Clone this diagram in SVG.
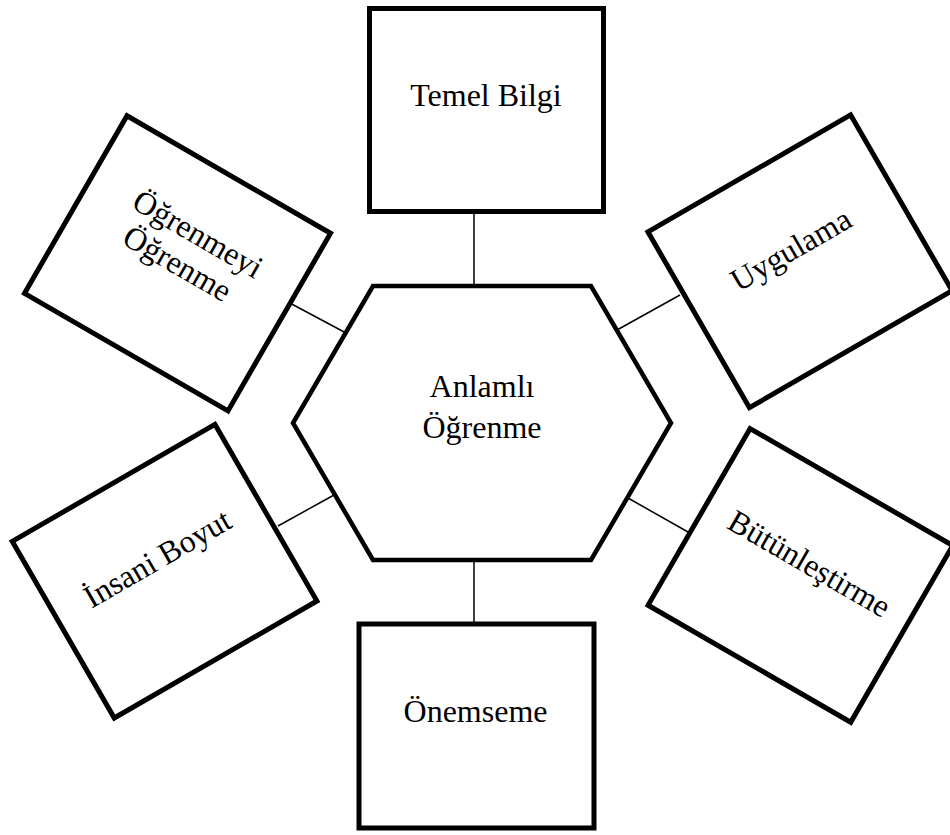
<svg xmlns="http://www.w3.org/2000/svg" width="950" height="835" viewBox="0 0 950 835">
  <style>
    .box { fill: #ffffff; stroke: #000000; stroke-width: 5; stroke-linejoin: miter; }
    .hex { fill: #ffffff; stroke: #000000; stroke-width: 4.5; stroke-linejoin: miter; }
    .link { stroke: #000000; stroke-width: 1.5; fill: none; }
    .label { font-family: "Liberation Serif", "Times New Roman", serif; font-size: 32px; fill: #000000; text-anchor: middle; }
  </style>
  <rect width="950" height="835" fill="#ffffff"/>

  <!-- connectors between the centre hexagon and the surrounding boxes -->
  <g id="connectors">
    <line class="link" x1="474" y1="211" x2="474" y2="286"/>
    <line class="link" x1="474" y1="560" x2="474" y2="624"/>
    <line class="link" x1="291.7" y1="304" x2="346" y2="333"/>
    <line class="link" x1="617" y1="330" x2="680" y2="295"/>
    <line class="link" x1="278" y1="526" x2="334" y2="495"/>
    <line class="link" x1="628" y1="498" x2="688" y2="532"/>
  </g>

  <!-- centre -->
  <g id="node-anlamli-ogrenme">
    <polygon class="hex" points="373,286 591,286 671,423 591,560 373,560 293,423"/>
    <text class="label" x="482" y="397">Anlamlı</text>
    <text class="label" x="482" y="438">Öğrenme</text>
  </g>

  <g id="node-temel-bilgi">
    <rect class="box" x="369.5" y="8.5" width="234" height="203"/>
    <text class="label" x="486" y="106">Temel Bilgi</text>
  </g>

  <g id="node-onemseme">
    <rect class="box" x="359" y="624" width="235" height="204"/>
    <text class="label" x="475.5" y="722">Önemseme</text>
  </g>

  <g id="node-ogrenmeyi-ogrenme" transform="translate(177.5,263.3) rotate(30)">
    <rect class="box" x="-117.5" y="-102.5" width="235" height="205"/>
    <text class="label" x="3" y="-25">Öğrenmeyi</text>
    <text class="label" x="0" y="11">Öğrenme</text>
  </g>

  <g id="node-uygulama" transform="translate(800,261.3) rotate(-30)">
    <rect class="box" x="-117" y="-101.5" width="234" height="203"/>
    <text class="label" x="-2" y="-4">Uygulama</text>
  </g>

  <g id="node-insani-boyut" transform="translate(164.6,571.2) rotate(-30)">
    <rect class="box" x="-117" y="-102" width="234" height="204"/>
    <text class="label" x="0" y="-4">İnsani Boyut</text>
  </g>

  <g id="node-butunlestirme" transform="translate(800.4,575.4) rotate(30)">
    <rect class="box" x="-117" y="-102" width="234" height="204"/>
    <text class="label" x="2" y="-4">Bütünleştirme</text>
  </g>
</svg>
